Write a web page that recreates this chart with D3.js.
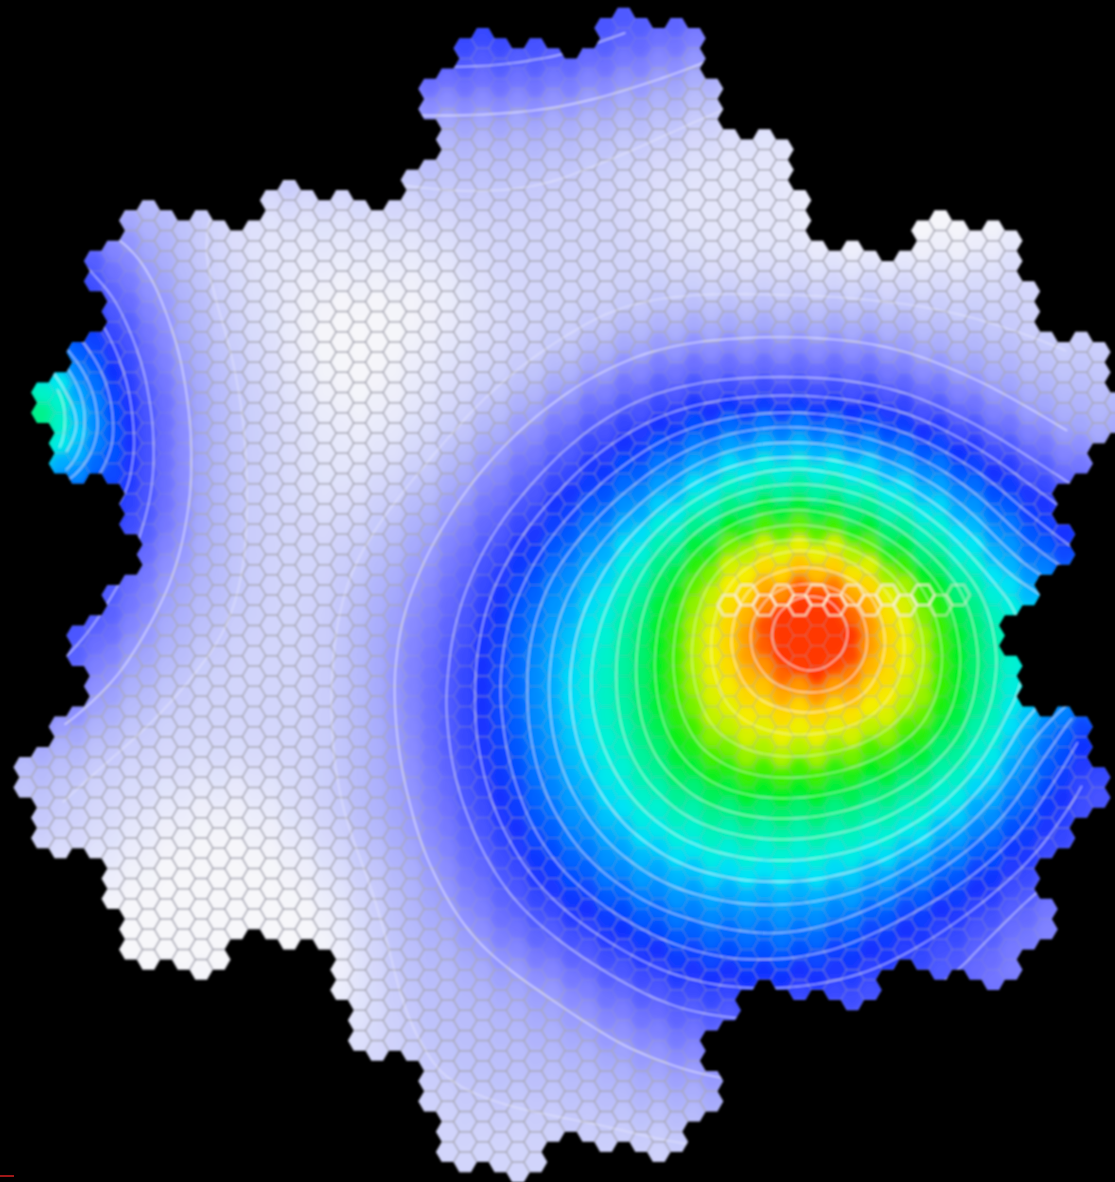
<!DOCTYPE html>
<html><head><meta charset="utf-8">
<style>html,body{margin:0;padding:0;background:#000;overflow:hidden}svg{display:block}</style>
<script src="https://cdnjs.cloudflare.com/ajax/libs/d3/7.8.5/d3.min.js"></script>
</head><body><svg id="c" width="1115" height="1182"></svg>
<script>
// Level read for every table cell: "startColumn:level" runs, one string per row.
const levelChars = "0123456789abcdefghijklm";
const levelColors = ["#f7f7fa","#e4e6fb","#d2d5fb","#bcc0fb","#a6aafc","#8a8cff","#6a6eff","#4452ff","#1230ff","#0058ff","#0088ff","#00aeff","#00e4f6","#00f2d4","#00f2a8","#00f070","#00f020","#44f000","#b8f200","#f4f000","#ffd000","#ff8400","#ff3800"];
const contourLevels = [2.5,4.5,6.5,7.5,8.5,9.5,10.5,11.5,12.5,13.5,14.5,15.5,16.5,17.5,18.5,19.5,20.3,21.05];
const contourOpacity = [.38,.6,.55,.55,.55,.55,.55,.6,.55,.5,.5,.45,.45,.4,.4,.55,.6,.65];
const spiralDigits = [0,1,2,3,4,5,6];
const brightCells = [[39,29],[40,28],[41,29],[42,28],[43,29],[44,28],[45,29],[46,28],[47,29],[48,28],[49,29],[50,28],[51,29],[52,28]];
const fieldRows = [
"0:8 28:7 38:6 41:5",
"0:7 34:6 38:5 41:4",
"0:7 31:6 34:5 37:4 41:3",
"0:6 29:5 34:4 39:3 45:2",
"0:5 32:4 37:3 39:2 44:1",
"0:4 30:3 37:2 41:1",
"0:3 34:2 38:1 46:0",
"0:3 32:2 37:1 44:0",
"0:3 29:2 35:1 45:0",
"0:3 10:1 20:2 34:1 44:0",
"0:5 5:4 7:3 9:2 11:1 23:2 35:1 44:0",
"0:7 3:6 5:5 6:4 8:3 9:2 11:1 24:2 36:1 45:0 54:1",
"0:8 3:7 4:6 5:5 6:4 8:3 10:2 12:1 25:2 38:1 55:2",
"0:8 3:7 4:6 5:5 7:4 8:3 10:2 12:1 15:0 23:1 26:2",
"0:8 4:7 5:6 6:5 8:4 9:3 10:2 12:1 15:0 24:1 27:2 34:3 49:2",
"0:8 4:7 6:6 7:5 8:4 9:3 11:2 13:1 15:0 23:1 26:2 32:3 37:4 50:3 55:2",
"0:a 2:9 4:8 5:7 6:6 7:5 8:4 9:3 11:2 13:1 15:0 22:1 25:2 30:3 32:4 35:5 48:4 53:3 57:2",
"0:c 1:b 2:a 3:9 4:8 5:7 6:6 7:5 8:4 10:3 11:2 14:1 15:0 21:1 24:2 28:3 31:4 33:5 36:6 49:5 51:4 56:3",
"0:f 1:c 2:a 3:9 4:8 6:7 7:6 8:5 9:4 10:3 12:2 14:1 16:0 21:1 24:2 27:3 29:4 30:5 32:6 35:7 49:6 52:5 54:4 57:3",
"0:i 1:e 2:b 3:a 4:9 5:8 6:7 7:6 8:5 9:4 10:3 12:2 14:1 17:0 20:1 23:2 25:3 27:4 29:5 31:6 33:7 37:8 49:7 52:6 54:5 56:4 59:3",
"0:i 1:e 2:b 3:a 4:9 5:8 6:7 7:6 8:5 9:4 10:3 12:2 15:1 18:0 19:1 22:2 24:3 26:4 28:5 29:6 31:7 34:8 37:9 40:a 45:9 49:8 52:7 54:6 56:5 58:4",
"0:f 1:d 2:b 3:a 4:9 5:8 6:7 7:6 8:5 9:4 10:3 12:2 15:1 22:2 23:3 25:4 26:5 28:6 30:7 32:8 35:9 37:a 39:b 46:a 49:9 51:8 54:7 56:6 58:5 59:4",
"0:c 2:b 3:a 4:9 5:8 6:7 7:6 8:5 9:4 10:3 12:2 15:1 20:2 22:3 24:4 25:5 27:6 29:7 31:8 33:9 35:a 37:b 39:c 41:d 46:c 48:b 50:a 52:9 53:8 56:7 58:6",
"0:8 6:7 7:6 8:5 9:4 10:3 12:2 15:1 19:2 21:3 23:4 25:5 26:6 28:7 30:8 32:9 34:a 36:b 37:c 38:d 40:e 47:d 48:c 50:b 52:a 53:9 55:8 57:7 59:6",
"0:8 6:7 7:6 8:5 9:4 10:3 12:2 16:1 18:2 20:3 22:4 24:5 25:6 27:7 29:8 30:9 33:a 34:b 36:c 37:d 38:e 39:f 41:g 45:f 48:e 49:d 50:c 52:b 53:a 55:9 56:8 58:7",
"0:8 6:7 7:6 8:5 9:4 10:3 12:2 19:3 21:4 23:5 24:6 26:7 28:8 30:9 31:a 33:b 34:c 35:d 36:e 38:f 39:g 40:h 46:g 48:f 49:e 51:d 52:c 53:b 54:a 56:9 57:8",
"0:7 6:6 7:5 8:4 10:3 12:2 19:3 21:4 23:5 24:6 25:7 27:8 29:9 30:a 32:b 33:c 34:d 35:e 36:f 37:g 38:h 39:i 40:j 46:i 47:h 48:g 50:f 51:e 52:d 53:c 54:b 55:a 57:9 58:8",
"0:6 7:5 8:4 10:3 12:2 18:3 20:4 22:5 23:6 25:7 26:8 28:9 30:a 31:b 32:c 34:e 35:f 36:g 37:h 38:i 39:j 41:k 43:l 46:k 47:j 48:i 49:h 50:g 51:f 52:e 53:d 54:c 55:b 56:a 57:9",
"0:8 5:6 6:5 7:4 9:3 12:2 18:3 19:4 21:5 23:6 24:7 26:8 27:9 29:a 30:b 32:c 33:d 34:e 35:f 36:g 37:h 38:i 39:j 40:k 41:l 43:m 46:l 47:k 48:j 49:i 50:h 51:g 52:f 53:e 54:d 55:c 56:a",
"0:7 5:6 6:5 7:4 9:3 12:2 17:3 19:4 21:5 23:6 24:7 26:8 27:9 28:a 30:b 31:c 32:d 33:e 34:f 35:g 36:h 37:i 38:j 39:k 40:l 42:m 47:l 48:k 49:j 50:i 51:h 52:g 53:f 54:e 55:d 56:c",
"0:7 4:6 6:4 8:3 11:2 17:3 19:4 21:5 22:6 24:7 25:8 27:9 28:a 29:b 31:c 32:d 33:e 34:f 35:g 36:h 37:i 38:j 39:k 40:l 41:m 47:l 48:k 49:j 50:i 51:h 52:g 53:f 54:e 55:d",
"0:7 3:6 4:5 5:4 8:3 10:2 17:3 19:4 20:5 22:6 23:7 25:8 26:9 28:a 29:b 30:c 32:d 33:e 34:f 35:g 36:h 37:i 38:j 39:k 40:l 41:m 47:l 48:k 49:j 50:i 51:h 52:g 53:f 54:e 55:d",
"0:7 2:6 3:5 5:4 7:3 9:2 17:3 19:4 20:5 22:6 23:7 25:8 26:9 28:a 29:b 30:c 31:d 32:e 34:f 35:g 36:h 37:i 38:j 39:k 40:l 43:m 46:l 48:k 49:j 50:i 51:h 52:g 53:f 54:e 55:d 56:c",
"0:6 3:5 4:4 6:3 8:2 17:3 19:4 20:5 22:6 23:7 25:8 26:9 28:a 29:b 30:c 31:d 33:e 34:f 35:g 36:h 37:i 38:j 40:k 42:l 47:k 48:j 50:i 51:h 52:g 53:f 54:e 55:d 56:b",
"0:6 2:5 3:4 5:3 7:2 17:3 19:4 20:5 22:6 23:7 25:8 26:9 28:a 29:b 30:c 31:d 33:e 34:f 35:g 36:h 37:i 39:j 42:k 47:j 49:i 51:h 52:g 53:f 54:e 55:d 56:b 57:a 58:9 59:8",
"0:5 1:4 4:3 6:2 17:3 19:4 21:5 22:6 23:7 25:8 27:9 28:a 29:b 31:c 32:d 33:e 34:f 36:g 37:h 38:i 40:j 45:i 49:h 51:g 52:f 53:e 54:d 55:c 56:b 57:a 58:9 59:8",
"0:4 1:3 4:2 17:3 19:4 21:5 22:6 23:7 25:8 27:9 28:a 29:b 31:c 32:d 34:e 35:f 36:g 37:h 39:i 47:h 49:g 51:f 52:e 53:d 55:b 56:a 57:9 59:8 60:7",
"0:3 3:2 8:1 14:2 17:3 19:4 21:5 23:7 25:8 27:9 29:a 30:b 31:c 33:d 34:e 35:f 37:g 39:h 46:g 49:f 51:e 52:d 54:c 55:b 56:a 57:9 58:8 60:7",
"0:3 2:2 6:1 15:2 17:3 19:4 21:5 23:6 24:7 26:8 27:9 29:a 30:b 32:c 33:d 35:e 36:f 39:g 46:f 49:e 52:d 53:c 54:b 55:a 56:9 58:8 59:7 60:6",
"0:3 1:2 5:1 9:0 12:1 15:2 17:3 19:4 21:5 23:6 24:7 26:8 28:9 29:a 31:b 33:c 34:d 37:e 39:f 46:e 50:d 51:c 52:b 54:a 55:9 57:8 59:7 60:6",
"0:3 1:2 4:1 7:0 14:1 16:2 18:3 20:4 22:5 23:6 25:7 27:8 28:9 30:a 32:b 34:c 36:d 39:e 46:d 50:c 51:b 53:a 54:9 56:8 58:7",
"0:2 3:1 6:0 15:1 17:2 18:3 20:4 22:5 24:6 25:7 27:8 29:9 31:a 33:b 35:c 38:d 47:c 50:b 51:a 52:9 55:8 57:7",
"0:1 5:0 16:1 17:2 19:3 21:4 23:5 24:6 26:7 28:8 30:9 32:a 34:b 38:c 47:b 49:a 51:9 54:8 56:7 58:6",
"0:0 17:1 18:2 20:3 22:4 23:5 25:6 27:7 29:8 31:9 34:a 37:b 46:a 49:9 52:8 54:7 57:6 58:5",
"0:0 17:1 18:2 19:3 21:4 24:5 25:6 28:7 30:8 33:9 36:a 47:9 49:8 53:7 56:6 58:5",
"0:0 18:1 19:3 22:4 25:5 26:6 28:7 32:8 35:9 41:a 45:9 47:8 51:7 55:6 56:5",
"0:0 18:1 19:2 20:3 24:4 26:5 29:6 31:7 34:8 37:9 44:8 50:7 54:6 55:5",
"0:0 18:1 19:2 20:3 24:4 28:5 30:6 32:7 36:8 47:7 52:6 54:5",
"0:0 18:1 19:2 20:3 25:4 30:5 32:6 34:7 49:6 53:5",
"0:1 20:2 21:3 27:4 31:5 34:6 37:7",
"0:1 19:2 21:3 28:4 32:5 36:6",
"0:1 18:2 22:3 31:4 35:5",
"0:1 18:2 23:3 33:4 39:5",
"0:1 18:2 24:3 34:4",
"0:2 30:3 38:4",
"0:2 37:3",
"0:2",
"0:2"];

const W=1115,H=1182,nCols=61,nRows=58;
const x=d3.scaleLinear().domain([0,60]).range([42.8,1098.8]);
const rowY=d3.scaleLinear().domain([0,57]).range([23,1177.25]);
const color=d3.scaleLinear().domain(levelColors.map((_,i)=>i<22?i:21.4)).range(levelColors).interpolate(d3.interpolateRgb).clamp(true);
const table=fieldRows.map(s=>{
  const runs=s.split(" ").map(t=>{const [a,b]=t.split(":");return [+a,levelChars.indexOf(b)];});
  const row=new Array(nCols);
  runs.forEach(([st,l],k)=>{const end=k+1<runs.length?runs[k+1][0]:nCols;for(let i=st;i<end;i++)row[i]=l;});
  return row;
});
// soften the whole-number readings so colour and contours run smoothly
function soften(t,passes){
  let cur=t.map(r=>r.slice());
  const cl=(v,n)=>Math.max(0,Math.min(n-1,v));
  for(let p=0;p<passes;p++){
    const h1=cur.map(r=>r.map((_,i)=>(r[cl(i-1,nCols)]+2*r[i]+r[cl(i+1,nCols)])/4));
    cur=h1.map((r,j)=>r.map((_,i)=>(h1[cl(j-1,nRows)][i]+2*h1[j][i]+h1[cl(j+1,nRows)][i])/4));
  }
  return cur;
}
const smooth=soften(table,3);
const cy=(i,r)=>rowY(r)+(i%2===0?5.06:-5.06);
const R=17.6/1.5,h=10.125;
const hexPath=(i,r,s=1)=>{const a=x(i),b=cy(i,r);
  return d3.line()([[a-R*s,b],[a-R*s/2,b-h*s],[a+R*s/2,b-h*s],[a+R*s,b],[a+R*s/2,b+h*s],[a-R*s/2,b+h*s]])+"Z";};

// island membership: four nested seven-cell groups
const mul=([a,b])=>[2*a-b,a+3*b];
const rot=[[1,0],[0,1],[-1,1],[-1,0],[0,-1],[1,-1]];
let basis=[1,0],cells=[[0,0]];
for(let lev=0;lev<4;lev++){
  const nxt=[];
  const off=spiralDigits.map(d=>{if(d===0)return [0,0];const [u,v]=rot[d-1];const [p,q]=basis;return [p*u-q*v, p*v+q*u+q*v];});
  cells.forEach(c=>off.forEach(o=>nxt.push([c[0]+o[0],c[1]+o[1]])));
  cells=nxt;basis=mul(basis);
}
const island=cells.map(([a,b])=>{const i=30+a,Y=57+(-a-2*b);const r=(Y-(i%2===0?1:0))/2;return [i,r];});

const svg=d3.select("#c");
svg.append("rect").attr("width",W).attr("height",H).attr("fill","#000");
const defs=svg.append("defs");
const f1=defs.append("filter").attr("id","wide").attr("filterUnits","userSpaceOnUse").attr("x",-60).attr("y",-60).attr("width",W+120).attr("height",H+120);
f1.append("feGaussianBlur").attr("stdDeviation",4);
const f2=defs.append("filter").attr("id","soft").attr("filterUnits","userSpaceOnUse").attr("x",0).attr("y",0).attr("width",W).attr("height",H);
f2.append("feGaussianBlur").attr("stdDeviation",0.9);
defs.append("clipPath").attr("id","isle").append("path").attr("d",island.map(([i,r])=>hexPath(i,r)).join(""));

const root=svg.append("g").attr("filter","url(#soft)").append("g").attr("clip-path","url(#isle)");
const all=[];
for(let i=-3;i<nCols+3;i++)for(let r=-3;r<nRows+3;r++)all.push([i,r]);
const lev=(i,r)=>smooth[Math.max(0,Math.min(nRows-1,r))][Math.max(0,Math.min(nCols-1,i))];
root.append("g").attr("filter","url(#wide)").selectAll("path").data(all).join("path")
  .attr("d",d=>hexPath(d[0],d[1],1.04)).attr("fill",d=>color(lev(d[0],d[1])));

// hex outlines
const edgeAlpha=d3.scaleLinear().domain([0,4,5,6,7,8,9,12,16,19,22]).range([.72,.6,.18,.08,.16,.24,.16,.12,.1,.24,.16]);
root.append("g").selectAll("path").data(island).join("path")
  .attr("d",d=>hexPath(d[0],d[1])).attr("fill","none")
  .attr("stroke","#a8a8b4").attr("stroke-width",1.5)
  .attr("stroke-opacity",d=>edgeAlpha(lev(d[0],d[1])));

// contours from the softened table, evened out along each line
const contours=d3.contours().size([nCols,nRows]).thresholds(contourLevels)(smooth.flat());
const px=p=>[x(p[0]-.5),rowY(p[1]-.5)];
const open=d3.line().curve(d3.curveBasis),closed=d3.line().curve(d3.curveBasisClosed);
const lines=root.append("g").attr("fill","none").attr("stroke","#fff").attr("stroke-width",1.4);
const isEdge=p=>p[0]<=.6||p[0]>=nCols-.6||p[1]<=.6||p[1]>=nRows-.6;
const even=(pts,wrap)=>{
  const n=pts.length,w=Math.min(4,Math.floor((n-1)/4));
  return pts.map((_,k)=>{let sx=0,sy=0,c=0;
    for(let q=-w;q<=w;q++){const m=k+q;
      const p=wrap?pts[(m+n)%n]:pts[Math.max(0,Math.min(n-1,m))];sx+=p[0];sy+=p[1];c++;}
    return [sx/c,sy/c];});
};
contours.forEach((c,ci)=>{
  const op=contourOpacity[ci];
  c.coordinates.forEach(poly=>poly.forEach(ring=>{
    const pts=ring.slice(0,-1);
    const first=pts.findIndex(isEdge);
    if(first<0){
      if(pts.length>=4)lines.append("path").attr("d",closed(even(pts.map(px),true))).attr("stroke-opacity",op);
      return;
    }
    let seg=[];
    const flush=()=>{if(seg.length>=4)lines.append("path").attr("d",open(even(seg.map(px),false))).attr("stroke-opacity",op);seg=[];};
    for(let k=0;k<pts.length;k++){
      const p=pts[(first+k)%pts.length];
      if(isEdge(p))flush();else seg.push(p);
    }
    flush();
  }));
});

// the row of bright cells
root.append("g").selectAll("path").data(brightCells).join("path")
  .attr("d",d=>hexPath(d[0],d[1])).attr("fill","none")
  .attr("stroke","#fff6d8").attr("stroke-width",2.2).attr("stroke-opacity",(d,k)=>k<12?.7:.45);

svg.append("rect").attr("x",0).attr("y",1175).attr("width",14).attr("height",2).attr("fill","#a01818");
</script></body></html>
